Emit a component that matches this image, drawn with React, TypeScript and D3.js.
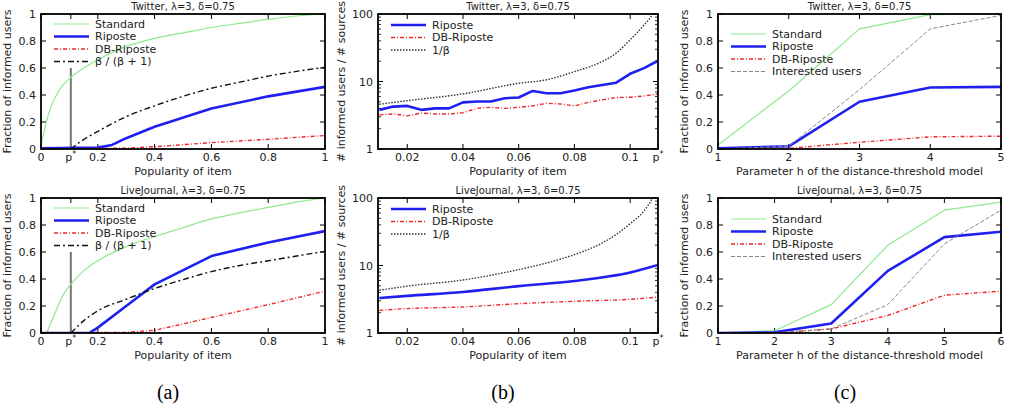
import React from 'react';
import * as d3 from 'd3';

// ---------- data ----------
const P_STAR = 0.105;
const P_STAR_B = 0.11;

// (a) Twitter
const aTwStdX = [0, 0.01, 0.02, 0.04, 0.06, 0.08, 0.105, 0.15, 0.2, 0.3, 0.4, 0.5, 0.6, 0.7, 0.8, 0.9, 1];
const aTwStdY = [0.03, 0.12, 0.21, 0.34, 0.42, 0.48, 0.53, 0.6, 0.66, 0.76, 0.82, 0.86, 0.9, 0.93, 0.96, 0.985, 1.0];
const aTwRipX = [0, 0.2, 0.25, 0.3, 0.4, 0.6, 0.8, 1];
const aTwRipY = [0.005, 0.01, 0.03, 0.08, 0.165, 0.3, 0.39, 0.46];
const aTwDbX = [0, 0.3, 0.4, 0.6, 0.8, 1];
const aTwDbY = [0, 0.006, 0.017, 0.047, 0.072, 0.1];
const aTwBetaX = [0.105, 0.15, 0.2, 0.3, 0.4, 0.5, 0.6, 0.7, 0.8, 0.9, 1];
const aTwBetaY = [0, 0.07, 0.13, 0.24, 0.32, 0.39, 0.45, 0.495, 0.54, 0.575, 0.605];

// (a) LiveJournal
const aLjStdX = [0.02, 0.04, 0.06, 0.08, 0.105, 0.15, 0.2, 0.3, 0.4, 0.5, 0.6, 0.7, 0.8, 0.9, 1];
const aLjStdY = [0, 0.1, 0.2, 0.29, 0.36, 0.46, 0.535, 0.64, 0.715, 0.78, 0.845, 0.89, 0.93, 0.97, 1.0];
const aLjRipX = [0, 0.17, 0.2, 0.3, 0.4, 0.6, 0.8, 1];
const aLjRipY = [0, 0, 0.04, 0.2, 0.36, 0.57, 0.67, 0.755];
const aLjDbX = [0, 0.3, 0.4, 0.6, 0.8, 1];
const aLjDbY = [0, 0.005, 0.02, 0.115, 0.21, 0.31];
const aLjBetaX = [0.105, 0.15, 0.2, 0.3, 0.4, 0.5, 0.6, 0.7, 0.8, 0.9, 1];
const aLjBetaY = [0, 0.09, 0.165, 0.25, 0.33, 0.395, 0.455, 0.5, 0.535, 0.57, 0.605];

// (b) Twitter
const bTwX = [0.01, 0.015, 0.02, 0.025, 0.03, 0.035, 0.04, 0.045, 0.05, 0.055, 0.06, 0.065, 0.07, 0.075, 0.08, 0.085, 0.09, 0.095, 0.1, 0.105, 0.11];
const bTwRip = [3.8, 4.25, 4.35, 3.8, 4.0, 4.0, 4.9, 5.05, 5.05, 5.65, 5.8, 7.25, 6.7, 6.7, 7.35, 8.2, 8.9, 9.6, 13, 15.8, 20.3];
const bTwDb = [3.2, 3.3, 3.1, 3.4, 3.3, 3.3, 3.45, 4.0, 4.15, 4.0, 4.15, 4.35, 4.75, 4.65, 4.35, 4.9, 5.35, 5.8, 5.85, 6.1, 6.55];
const bTwInvX = [0.01, 0.02, 0.04, 0.06, 0.07, 0.08, 0.09, 0.095, 0.1, 0.105, 0.108, 0.11];
const bTwInvY = [4.6, 5.2, 6.55, 9.4, 10.6, 14, 19.8, 26.3, 41.5, 69, 100, 160];

// (b) LiveJournal
const bLjX = [0.01, 0.02, 0.04, 0.06, 0.08, 0.1, 0.11];
const bLjRip = [3.3, 3.55, 4.06, 4.95, 5.9, 7.9, 10.2];
const bLjDb = [2.16, 2.3, 2.43, 2.72, 2.95, 3.16, 3.4];
const bLjInvX = [0.01, 0.02, 0.04, 0.06, 0.07, 0.08, 0.09, 0.095, 0.1, 0.105, 0.108, 0.11];
const bLjInvY = [4.3, 4.95, 6.1, 8.7, 10.9, 14.5, 21.6, 28.8, 41.7, 64.6, 100, 160];

// (c) Twitter
const cTwH = [1, 2, 3, 4, 5];
const cTwStd = [0.03, 0.43, 0.89, 0.995, 1.0];
const cTwRip = [0.005, 0.02, 0.35, 0.455, 0.46];
const cTwDb = [0, 0.005, 0.05, 0.09, 0.095];
const cTwInt = [0, 0.02, 0.44, 0.89, 0.99];

// (c) LiveJournal
const cLjH = [1, 2, 3, 4, 5, 6];
const cLjStd = [0, 0.017, 0.21, 0.65, 0.91, 0.97];
const cLjRip = [0, 0.005, 0.07, 0.46, 0.71, 0.75];
const cLjDb = [0, 0, 0.03, 0.13, 0.28, 0.31];
const cLjInt = [0, 0, 0.03, 0.21, 0.66, 0.91];

const fracTicks = [0, 0.2, 0.4, 0.6, 0.8, 1];
const fracTickLabels = ['0', '0.2', '0.4', '0.6', '0.8', '1'];
const aXTicks = [0, P_STAR, 0.2, 0.4, 0.6, 0.8, 1];
const aXTickLabels = ['0', 'p*', '0.2', '0.4', '0.6', '0.8', '1'];
const bXTicks = [0.02, 0.04, 0.06, 0.08, 0.1, P_STAR_B];
const bXTickLabels = ['0.02', '0.04', '0.06', '0.08', '0.1', 'p*'];
const bYTicks = [1, 10, 100];
const bYTickLabels = ['1', '10', '100'];
const cTwXTicks = [1, 2, 3, 4, 5];
const cLjXTicks = [1, 2, 3, 4, 5, 6];

// ---------- styles ----------
const FONT = 'DejaVu Sans, sans-serif';
const TXT = '#222';
type Sty = { stroke: string; width: number; dash: string | null };
const STY: Record<string, Sty> = {
  std: { stroke: '#8fe88f', width: 1.2, dash: null },
  rip: { stroke: '#1f1ff0', width: 2.6, dash: null },
  db: { stroke: '#ee2b2b', width: 1.4, dash: '4 2 1 2' },
  beta: { stroke: '#111', width: 1.4, dash: '6 3 2 3' },
  inv: { stroke: '#333', width: 1.4, dash: '1.5 1.5' },
  int: { stroke: '#888', width: 1, dash: '4 2' },
};

type Series = { x: number[]; y: number[]; sty: string; label: string; smooth?: boolean };

type PanelProps = {
  id: string;
  left: number; top: number; width: number; height: number;
  title: string; xLabel: string; yLabel: string; yLabelOff: number;
  xDomain: [number, number]; yDomain: [number, number]; yLog?: boolean;
  xTicks: number[]; xTickLabels: string[]; yTicks: number[]; yTickLabels: string[];
  series: Series[]; legendTop: number; pStar?: number;
};

function TickLabel({ s, x, y, anchor }: { s: string; x: number; y: number; anchor: string }) {
  if (s === 'p*') {
    return (
      <text x={x} y={y} textAnchor={anchor} fontSize={11} fontFamily={FONT} fill={TXT}>
        p<tspan dy={-4} fontSize={8}>*</tspan>
      </text>
    );
  }
  return (
    <text x={x} y={y} textAnchor={anchor} fontSize={11} fontFamily={FONT} fill={TXT}>{s}</text>
  );
}

function Panel(p: PanelProps) {
  const x = d3.scaleLinear().domain(p.xDomain).range([p.left, p.left + p.width]);
  const y = (p.yLog ? d3.scaleLog() : d3.scaleLinear()).domain(p.yDomain).range([p.top + p.height, p.top]);
  const bottom = p.top + p.height;
  const right = p.left + p.width;
  const minor: number[] = [];
  if (p.yLog) {
    for (const dec of [1, 10]) for (let k = 2; k <= 9; k++) minor.push(dec * k);
  }
  return (
    <g>
      <defs>
        <clipPath id={`clip-${p.id}`}>
          <rect x={p.left} y={p.top} width={p.width} height={p.height} />
        </clipPath>
      </defs>
      <text x={p.left + p.width / 2} y={p.top - 4} textAnchor="middle" fontSize={10} fontFamily={FONT} fill={TXT}>{p.title}</text>
      {/* ticks */}
      {p.xTicks.map((t, i) => (
        <g key={`xt${i}`}>
          <line x1={x(t)} x2={x(t)} y1={bottom} y2={bottom - 5} stroke="#000" strokeWidth={1} />
          <line x1={x(t)} x2={x(t)} y1={p.top} y2={p.top + 5} stroke="#000" strokeWidth={1} />
          <TickLabel s={p.xTickLabels[i]} x={x(t)} y={bottom + 12} anchor="middle" />
        </g>
      ))}
      {p.yTicks.map((t, i) => (
        <g key={`yt${i}`}>
          <line x1={p.left} x2={p.left + 5} y1={y(t)} y2={y(t)} stroke="#000" strokeWidth={1} />
          <line x1={right} x2={right - 5} y1={y(t)} y2={y(t)} stroke="#000" strokeWidth={1} />
          <TickLabel s={p.yTickLabels[i]} x={p.left - 5} y={y(t) + 4} anchor="end" />
        </g>
      ))}
      {minor.map((t, i) => (
        <g key={`ym${i}`}>
          <line x1={p.left} x2={p.left + 3} y1={y(t)} y2={y(t)} stroke="#000" strokeWidth={0.8} />
          <line x1={right} x2={right - 3} y1={y(t)} y2={y(t)} stroke="#000" strokeWidth={0.8} />
        </g>
      ))}
      {/* axis labels */}
      <text x={p.left + p.width / 2} y={bottom + 26} textAnchor="middle" fontSize={11} fontFamily={FONT} fill={TXT}>{p.xLabel}</text>
      <text transform={`translate(${p.left - p.yLabelOff},${p.top + p.height / 2}) rotate(-90)`} textAnchor="middle" dy="0.35em" fontSize={11} fontFamily={FONT} fill={TXT}>{p.yLabel}</text>
      {/* p* marker */}
      {p.pStar !== undefined && (
        <line x1={x(p.pStar)} x2={x(p.pStar)} y1={y(0)} y2={y(0.6)} stroke="#777" strokeWidth={2} />
      )}
      {/* series */}
      <g clipPath={`url(#clip-${p.id})`}>
        {p.series.map((s, i) => {
          const st = STY[s.sty];
          const pts = s.x.map((v, j) => [v, s.y[j]] as [number, number]);
          const gen = d3.line<[number, number]>()
            .x(d => x(d[0]))
            .y(d => y(d[1]))
            .curve(s.smooth ? d3.curveMonotoneX : d3.curveLinear);
          return (
            <path key={i} d={gen(pts) || ''} fill="none" stroke={st.stroke} strokeWidth={st.width}
              strokeDasharray={st.dash || undefined} strokeLinejoin="round" />
          );
        })}
      </g>
      {/* legend */}
      {p.series.map((s, i) => {
        const st = STY[s.sty];
        const ly = p.top + p.legendTop + i * 12.5;
        return (
          <g key={`lg${i}`}>
            <line x1={p.left + 13} x2={p.left + 48} y1={ly} y2={ly} stroke={st.stroke} strokeWidth={st.width}
              strokeDasharray={st.dash || undefined} />
            <text x={p.left + 54} y={ly} dy="0.35em" fontSize={11} fontFamily={FONT} fill={TXT}>{s.label}</text>
          </g>
        );
      })}
      <rect x={p.left} y={p.top} width={p.width} height={p.height} fill="none" stroke="#000" strokeWidth={1.8} />
    </g>
  );
}

const COLS = [
  { left: 41, width: 284 },
  { left: 378, width: 280 },
  { left: 718, width: 283 },
];
const ROWS = [{ top: 14, height: 135 }, { top: 198, height: 135 }];

export default function App() {
  const twTitle = 'Twitter, \u03bb=3, \u03b4=0.75';
  const ljTitle = 'LiveJournal, \u03bb=3, \u03b4=0.75';
  const panels: PanelProps[] = [
    {
      id: 'a1', ...COLS[0], ...ROWS[0], title: twTitle, xLabel: 'Popularity of item', yLabel: 'Fraction of informed users', yLabelOff: 34,
      xDomain: [0, 1], yDomain: [0, 1], xTicks: aXTicks, xTickLabels: aXTickLabels, yTicks: fracTicks, yTickLabels: fracTickLabels,
      legendTop: 10, pStar: P_STAR,
      series: [
        { x: aTwStdX, y: aTwStdY, sty: 'std', label: 'Standard', smooth: true },
        { x: aTwRipX, y: aTwRipY, sty: 'rip', label: 'Riposte' },
        { x: aTwDbX, y: aTwDbY, sty: 'db', label: 'DB-Riposte' },
        { x: aTwBetaX, y: aTwBetaY, sty: 'beta', label: '\u03b2 / (\u03b2 + 1)', smooth: true },
      ],
    },
    {
      id: 'a2', ...COLS[0], ...ROWS[1], title: ljTitle, xLabel: 'Popularity of item', yLabel: 'Fraction of informed users', yLabelOff: 34,
      xDomain: [0, 1], yDomain: [0, 1], xTicks: aXTicks, xTickLabels: aXTickLabels, yTicks: fracTicks, yTickLabels: fracTickLabels,
      legendTop: 10, pStar: P_STAR,
      series: [
        { x: aLjStdX, y: aLjStdY, sty: 'std', label: 'Standard', smooth: true },
        { x: aLjRipX, y: aLjRipY, sty: 'rip', label: 'Riposte' },
        { x: aLjDbX, y: aLjDbY, sty: 'db', label: 'DB-Riposte' },
        { x: aLjBetaX, y: aLjBetaY, sty: 'beta', label: '\u03b2 / (\u03b2 + 1)', smooth: true },
      ],
    },
    {
      id: 'b1', ...COLS[1], ...ROWS[0], title: twTitle, xLabel: 'Popularity of item', yLabel: '# informed users / # sources', yLabelOff: 37,
      xDomain: [0.0095, P_STAR_B], yDomain: [1, 100], yLog: true, xTicks: bXTicks, xTickLabels: bXTickLabels, yTicks: bYTicks, yTickLabels: bYTickLabels,
      legendTop: 11,
      series: [
        { x: bTwX, y: bTwRip, sty: 'rip', label: 'Riposte' },
        { x: bTwX, y: bTwDb, sty: 'db', label: 'DB-Riposte' },
        { x: bTwInvX, y: bTwInvY, sty: 'inv', label: '1/\u03b2', smooth: true },
      ],
    },
    {
      id: 'b2', ...COLS[1], ...ROWS[1], title: ljTitle, xLabel: 'Popularity of item', yLabel: '# informed users / # sources', yLabelOff: 37,
      xDomain: [0.0095, P_STAR_B], yDomain: [1, 100], yLog: true, xTicks: bXTicks, xTickLabels: bXTickLabels, yTicks: bYTicks, yTickLabels: bYTickLabels,
      legendTop: 11,
      series: [
        { x: bLjX, y: bLjRip, sty: 'rip', label: 'Riposte', smooth: true },
        { x: bLjX, y: bLjDb, sty: 'db', label: 'DB-Riposte', smooth: true },
        { x: bLjInvX, y: bLjInvY, sty: 'inv', label: '1/\u03b2', smooth: true },
      ],
    },
    {
      id: 'c1', ...COLS[2], ...ROWS[0], title: twTitle, xLabel: 'Parameter h of the distance-threshold model', yLabel: 'Fraction of informed users', yLabelOff: 34,
      xDomain: [1, 5], yDomain: [0, 1], xTicks: cTwXTicks, xTickLabels: cTwXTicks.map(String), yTicks: fracTicks, yTickLabels: fracTickLabels,
      legendTop: 20,
      series: [
        { x: cTwH, y: cTwStd, sty: 'std', label: 'Standard' },
        { x: cTwH, y: cTwRip, sty: 'rip', label: 'Riposte' },
        { x: cTwH, y: cTwDb, sty: 'db', label: 'DB-Riposte' },
        { x: cTwH, y: cTwInt, sty: 'int', label: 'Interested users' },
      ],
    },
    {
      id: 'c2', ...COLS[2], ...ROWS[1], title: ljTitle, xLabel: 'Parameter h of the distance-threshold model', yLabel: 'Fraction of informed users', yLabelOff: 34,
      xDomain: [1, 6], yDomain: [0, 1], xTicks: cLjXTicks, xTickLabels: cLjXTicks.map(String), yTicks: fracTicks, yTickLabels: fracTickLabels,
      legendTop: 21,
      series: [
        { x: cLjH, y: cLjStd, sty: 'std', label: 'Standard' },
        { x: cLjH, y: cLjRip, sty: 'rip', label: 'Riposte' },
        { x: cLjH, y: cLjDb, sty: 'db', label: 'DB-Riposte' },
        { x: cLjH, y: cLjInt, sty: 'int', label: 'Interested users' },
      ],
    },
  ];
  const subLabels = [
    { t: '(a)', x: 168 },
    { t: '(b)', x: 503 },
    { t: '(c)', x: 845 },
  ];
  return (
    <svg width={1009} height={410} style={{ position: 'absolute', left: 0, top: 0, background: '#fff' }}>
      <rect x={0} y={0} width={1009} height={410} fill="#fff" />
      {panels.map(p => <Panel key={p.id} {...p} />)}
      {subLabels.map(s => (
        <text key={s.t} x={s.x} y={399} textAnchor="middle" fontSize={20} fontFamily="'Liberation Serif', 'Times New Roman', serif">{s.t}</text>
      ))}
    </svg>
  );
}
